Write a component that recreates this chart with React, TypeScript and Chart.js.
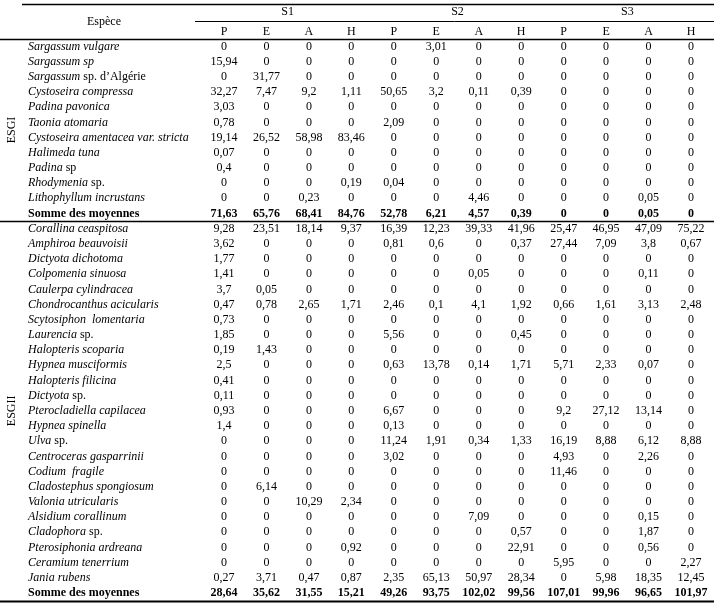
import React, { useEffect, useRef } from "react";
import { Chart, registerables } from "chart.js";

Chart.register(...registerables);

// ---------- data ----------
const stations = ["S1", "S2", "S3"];
const seasons = ["P", "E", "A", "H"];
const groupLabels = ["ESGI", "ESGII"];
const speciesHeader = "Espèce";
const sumLabel = "Somme des moyennes";

// [italic part, upright part]
const esg1Species: [string, string][] = [
  ["Sargassum vulgare", ""],
  ["Sargassum sp", ""],
  ["Sargassum", " sp. d’Algérie"],
  ["Cystoseira compressa", ""],
  ["Padina pavonica", ""],
  ["Taonia atomaria", ""],
  ["Cystoseira amentacea var. stricta", ""],
  ["Halimeda tuna", ""],
  ["Padina", " sp"],
  ["Rhodymenia", " sp."],
  ["Lithophyllum incrustans", ""],
];

const esg1Values: number[][] = [
  [0, 0, 0, 0, 0, 3.01, 0, 0, 0, 0, 0, 0],
  [15.94, 0, 0, 0, 0, 0, 0, 0, 0, 0, 0, 0],
  [0, 31.77, 0, 0, 0, 0, 0, 0, 0, 0, 0, 0],
  [32.27, 7.47, 9.2, 1.11, 50.65, 3.2, 0.11, 0.39, 0, 0, 0, 0],
  [3.03, 0, 0, 0, 0, 0, 0, 0, 0, 0, 0, 0],
  [0.78, 0, 0, 0, 2.09, 0, 0, 0, 0, 0, 0, 0],
  [19.14, 26.52, 58.98, 83.46, 0, 0, 0, 0, 0, 0, 0, 0],
  [0.07, 0, 0, 0, 0, 0, 0, 0, 0, 0, 0, 0],
  [0.4, 0, 0, 0, 0, 0, 0, 0, 0, 0, 0, 0],
  [0, 0, 0, 0.19, 0.04, 0, 0, 0, 0, 0, 0, 0],
  [0, 0, 0.23, 0, 0, 0, 4.46, 0, 0, 0, 0.05, 0],
];
const esg1Sum = [71.63, 65.76, 68.41, 84.76, 52.78, 6.21, 4.57, 0.39, 0, 0, 0.05, 0];

const esg2Species: [string, string][] = [
  ["Corallina ceaspitosa", ""],
  ["Amphiroa beauvoisii", ""],
  ["Dictyota dichotoma", ""],
  ["Colpomenia sinuosa", ""],
  ["Caulerpa cylindracea", ""],
  ["Chondrocanthus acicularis", ""],
  ["Scytosiphon  lomentaria", ""],
  ["Laurencia", " sp."],
  ["Halopteris scoparia", ""],
  ["Hypnea musciformis", ""],
  ["Halopteris filicina", ""],
  ["Dictyota", " sp."],
  ["Pterocladiella capilacea", ""],
  ["Hypnea spinella", ""],
  ["Ulva", " sp."],
  ["Centroceras gasparrinii", ""],
  ["Codium  fragile", ""],
  ["Cladostephus spongiosum", ""],
  ["Valonia utricularis", ""],
  ["Alsidium corallinum", ""],
  ["Cladophora", " sp."],
  ["Pterosiphonia ardreana", ""],
  ["Ceramium tenerrium", ""],
  ["Jania rubens", ""],
];

const esg2Values: number[][] = [
  [9.28, 23.51, 18.14, 9.37, 16.39, 12.23, 39.33, 41.96, 25.47, 46.95, 47.09, 75.22],
  [3.62, 0, 0, 0, 0.81, 0.6, 0, 0.37, 27.44, 7.09, 3.8, 0.67],
  [1.77, 0, 0, 0, 0, 0, 0, 0, 0, 0, 0, 0],
  [1.41, 0, 0, 0, 0, 0, 0.05, 0, 0, 0, 0.11, 0],
  [3.7, 0.05, 0, 0, 0, 0, 0, 0, 0, 0, 0, 0],
  [0.47, 0.78, 2.65, 1.71, 2.46, 0.1, 4.1, 1.92, 0.66, 1.61, 3.13, 2.48],
  [0.73, 0, 0, 0, 0, 0, 0, 0, 0, 0, 0, 0],
  [1.85, 0, 0, 0, 5.56, 0, 0, 0.45, 0, 0, 0, 0],
  [0.19, 1.43, 0, 0, 0, 0, 0, 0, 0, 0, 0, 0],
  [2.5, 0, 0, 0, 0.63, 13.78, 0.14, 1.71, 5.71, 2.33, 0.07, 0],
  [0.41, 0, 0, 0, 0, 0, 0, 0, 0, 0, 0, 0],
  [0.11, 0, 0, 0, 0, 0, 0, 0, 0, 0, 0, 0],
  [0.93, 0, 0, 0, 6.67, 0, 0, 0, 9.2, 27.12, 13.14, 0],
  [1.4, 0, 0, 0, 0.13, 0, 0, 0, 0, 0, 0, 0],
  [0, 0, 0, 0, 11.24, 1.91, 0.34, 1.33, 16.19, 8.88, 6.12, 8.88],
  [0, 0, 0, 0, 3.02, 0, 0, 0, 4.93, 0, 2.26, 0],
  [0, 0, 0, 0, 0, 0, 0, 0, 11.46, 0, 0, 0],
  [0, 6.14, 0, 0, 0, 0, 0, 0, 0, 0, 0, 0],
  [0, 0, 10.29, 2.34, 0, 0, 0, 0, 0, 0, 0, 0],
  [0, 0, 0, 0, 0, 0, 7.09, 0, 0, 0, 0.15, 0],
  [0, 0, 0, 0, 0, 0, 0, 0.57, 0, 0, 1.87, 0],
  [0, 0, 0, 0.92, 0, 0, 0, 22.91, 0, 0, 0.56, 0],
  [0, 0, 0, 0, 0, 0, 0, 0, 5.95, 0, 0, 2.27],
  [0.27, 3.71, 0.47, 0.87, 2.35, 65.13, 50.97, 28.34, 0, 5.98, 18.35, 12.45],
];
const esg2Sum = [28.64, 35.62, 31.55, 15.21, 49.26, 93.75, 102.02, 99.56, 107.01, 99.96, 96.65, 101.97];

// ---------- layout / style ----------
const W = 714;
const H = 603;
const FONT = '"Liberation Serif", "Times New Roman", serif';
const FS = 12;
const COL_FIRST_PX = 224;
const COL_LAST_PX = 691;
const ROW_FIRST_PX = 46.5;
const ROW_LAST_PX = 593;
const NAME_X = 28;
const GROUP_X = 12;
const ESPECE_X = 104;
const SLINE_X0 = 195;
const TOPLINE_X0 = 22;
const S_ROW = -2.3;
const P_ROW = -0.95;
const TOP_LINE = -2.8;
const S_LINE = -1.7;

const fmt = (v: number) => String(v).replace(".", ",");

export default function App() {
  const ref = useRef<HTMLCanvasElement>(null);

  useEffect(() => {
    document.body.style.margin = "0";
    const canvas = ref.current!;
    const nCols = stations.length * seasons.length;

    const g1Start = 0;
    const g1SumRow = esg1Species.length;
    const g2Start = g1SumRow + 1;
    const g2SumRow = g2Start + esg2Species.length;
    const nRows = g2SumRow + 1;

    const cells = (rows: number[][], start: number) =>
      rows.flatMap((vals, r) => vals.map((v, c) => ({ x: c, y: start + r, v })));

    const datasets: any[] = [
      { label: "ESGI", data: cells(esg1Values, g1Start), bold: false },
      { label: "ESGI sum", data: cells([esg1Sum], g1SumRow), bold: true },
      { label: "ESGII", data: cells(esg2Values, g2Start), bold: false },
      { label: "ESGII sum", data: cells([esg2Sum], g2SumRow), bold: true },
    ].map((d) => ({ ...d, pointRadius: 0, pointHoverRadius: 0, showLine: false }));

    const sx = (COL_LAST_PX - COL_FIRST_PX) / (nCols - 1);
    const xMin = -COL_FIRST_PX / sx;
    const xMax = xMin + W / sx;
    const sy = (ROW_LAST_PX - ROW_FIRST_PX) / (nRows - 1);
    const yMin = -ROW_FIRST_PX / sy;
    const yMax = yMin + H / sy;

    const tablePlugin = {
      id: "tableText",
      afterDatasetsDraw(chart: any) {
        const { ctx, scales } = chart;
        const xs = scales.x;
        const ys = scales.y;
        const px = (v: number) => xs.getPixelForValue(v);
        const py = (v: number) => ys.getPixelForValue(v);
        ctx.save();
        ctx.fillStyle = "#000";
        ctx.strokeStyle = "#000";
        ctx.textBaseline = "middle";

        // cell values
        chart.data.datasets.forEach((ds: any, di: number) => {
          const meta = chart.getDatasetMeta(di);
          ctx.font = `${ds.bold ? "bold " : ""}${FS}px ${FONT}`;
          ctx.textAlign = "center";
          meta.data.forEach((el: any, i: number) => {
            ctx.fillText(fmt(ds.data[i].v), el.x, el.y);
          });
        });

        // species names
        ctx.textAlign = "left";
        const drawName = (name: [string, string], row: number) => {
          ctx.font = `italic ${FS}px ${FONT}`;
          ctx.fillText(name[0], NAME_X, py(row));
          if (name[1]) {
            const w = ctx.measureText(name[0]).width;
            ctx.font = `${FS}px ${FONT}`;
            ctx.fillText(name[1], NAME_X + w, py(row));
          }
        };
        esg1Species.forEach((n, i) => drawName(n, g1Start + i));
        esg2Species.forEach((n, i) => drawName(n, g2Start + i));
        ctx.font = `bold ${FS}px ${FONT}`;
        ctx.fillText(sumLabel, NAME_X, py(g1SumRow));
        ctx.fillText(sumLabel, NAME_X, py(g2SumRow));

        // group labels (rotated)
        ctx.font = `${FS}px ${FONT}`;
        ctx.textAlign = "center";
        const groupMid = [(g1Start + g1SumRow) / 2, (g2Start + g2SumRow) / 2];
        groupLabels.forEach((g, i) => {
          ctx.save();
          ctx.translate(GROUP_X, py(groupMid[i]));
          ctx.rotate(-Math.PI / 2);
          ctx.fillText(g, 0, 0);
          ctx.restore();
        });

        // header
        ctx.fillText(speciesHeader, ESPECE_X, (py(S_ROW) + py(P_ROW)) / 2);
        stations.forEach((s, i) => {
          ctx.fillText(s, px(i * seasons.length + (seasons.length - 1) / 2), py(S_ROW));
        });
        for (let c = 0; c < nCols; c++) {
          ctx.fillText(seasons[c % seasons.length], px(c), py(P_ROW));
        }

        // rules
        const hline = (x0: number, y: number, lw: number) => {
          ctx.lineWidth = lw;
          ctx.beginPath();
          ctx.moveTo(x0, y);
          ctx.lineTo(W, y);
          ctx.stroke();
        };
        hline(TOPLINE_X0, Math.round(py(TOP_LINE)) + 0.5, 1.5);
        hline(SLINE_X0, Math.round(py(S_LINE)) + 0.5, 1);
        hline(0, Math.round(py(-0.5)) + 0.5, 1.5);
        hline(0, Math.round(py(g1SumRow + 0.5)) + 0.5, 1.5);
        hline(0, Math.round(py(g2SumRow + 0.5)) + 0.5, 2);
        ctx.restore();
      },
    };

    const chart = new Chart(canvas, {
      type: "scatter",
      data: { datasets },
      options: {
        responsive: false,
        maintainAspectRatio: false,
        animation: false,
        events: [],
        layout: { padding: 0 },
        plugins: { legend: { display: false }, tooltip: { enabled: false }, title: { display: false } },
        scales: {
          x: { type: "linear", display: false, min: xMin, max: xMax },
          y: { type: "linear", display: false, reverse: true, min: yMin, max: yMax },
        },
      },
      plugins: [tablePlugin],
    } as any);

    return () => chart.destroy();
  }, []);

  return <canvas ref={ref} width={W} height={H} style={{ display: "block" }} />;
}
